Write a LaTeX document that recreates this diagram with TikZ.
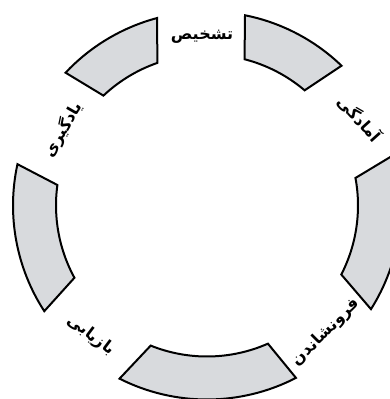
\documentclass[tikz,border=0pt]{standalone}
\usepackage{fontspec}
\newfontfamily\farsifont[Script=Arabic]{DejaVu Sans}
\TeXXeTstate=1
\definecolor{segfill}{RGB}{216,218,221}

\begin{document}
\begin{tikzpicture}[
  seg/.style={draw=black, fill=segfill, line width=2pt},
  stage/.style={font=\farsifont\bfseries\fontsize{16}{18}\selectfont, inner sep=1pt}
]
\useasboundingbox (-207pt,-193.5pt) rectangle (183pt,205.5pt);

% ring segments: outer arc, then inner arc back
\draw[seg] (136.8:194pt) arc[start angle=136.8, end angle=104.9, radius=194pt]
  -- (109.2:151pt) arc[start angle=109.2, end angle=133.3, radius=151pt] -- cycle;
\draw[seg] (78.7:194pt) arc[start angle=78.7, end angle=46.1, radius=194pt]
  -- (49.7:151pt) arc[start angle=49.7, end angle=75.6, radius=151pt] -- cycle;
\draw[seg] (15.2:194pt) arc[start angle=15.2, end angle=-32.3, radius=194pt]
  -- (-27.2:151pt) arc[start angle=-27.2, end angle=10.5, radius=151pt] -- cycle;
\draw[seg] (-62.7:194pt) arc[start angle=-62.7, end angle=-116.8, radius=194pt]
  -- (-111.9:151pt) arc[start angle=-111.9, end angle=-66.2, radius=151pt] -- cycle;
\draw[seg] (-147:194pt) arc[start angle=-147, end angle=-192.3, radius=194pt]
  -- (172.2:151pt) arc[start angle=172.2, end angle=208.6, radius=151pt] -- cycle;

% stage labels in the gaps
\node[stage] (detect) at (-5pt,169pt) {\beginR تشخیص\endR};
\node[stage, rotate=-48] (prep) at (153pt,87pt) {\beginR آمادگی\endR};
\node[stage, rotate=45] (contain) at (119pt,-127pt) {\beginR فرونشاندن\endR};
\node[stage, rotate=-37] (recover) at (-116pt,-130pt) {\beginR بازیابی\endR};
\node[stage, rotate=60] (learn) at (-144pt,76pt) {\beginR یادگیری\endR};

\end{tikzpicture}
\end{document}
